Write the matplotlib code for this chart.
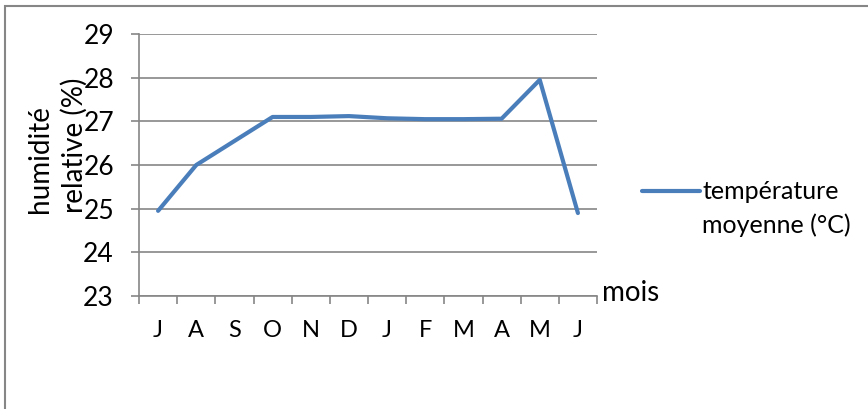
import matplotlib.pyplot as plt
from matplotlib.patches import Rectangle

plt.rcParams['font.family'] = ['Lato', 'DejaVu Sans']

# Monthly series (July to June)
mois = ['J', 'A', 'S', 'O', 'N', 'D', 'J', 'F', 'M', 'A', 'M', 'J']
temperature = [24.95, 26.0, 26.55, 27.1, 27.1, 27.12, 27.07, 27.05, 27.05, 27.06, 27.95, 24.9]
y_ticks = [23, 24, 25, 26, 27, 28, 29]

grey = '#868686'
blue = '#4A7EBB'

fig = plt.figure(figsize=(8.68, 4.09), dpi=100)
ax = fig.add_axes([139 / 868, 1 - 296 / 409, 458 / 868, 262 / 409])

x = list(range(len(mois)))
ax.plot(x, temperature, color=blue, lw=3.0, solid_capstyle='round',
        solid_joinstyle='round', label='température\nmoyenne (°C)')

ax.set_xlim(-0.5, len(mois) - 0.5)
ax.set_ylim(y_ticks[0], y_ticks[-1])

# category labels centred, tick marks on category boundaries
ax.set_xticks(x)
ax.set_xticklabels(mois, fontsize=17)
ax.tick_params(axis='x', which='major', length=0, pad=17)
ax.set_xticks([i - 0.5 for i in range(len(mois) + 1)], minor=True)
ax.tick_params(axis='x', which='minor', length=6, width=1.2, color=grey, direction='out')

ax.set_yticks(y_ticks)
ax.set_yticklabels([str(v) for v in y_ticks], fontsize=19)
ax.tick_params(axis='y', length=6, width=1.2, color=grey, pad=12)

ax.grid(axis='y', color=grey, lw=1.2)
ax.set_axisbelow(True)
for side in ['top', 'right']:
    ax.spines[side].set_visible(False)
for side in ['left', 'bottom']:
    ax.spines[side].set_color(grey)
    ax.spines[side].set_linewidth(1.2)

ax.set_xlabel('mois', fontsize=20, ha='left', va='center')
ax.xaxis.set_label_coords(1.01, 0.01)

fig.text(57 / 868, 1 - 213 / 409, 'humidité\nrelative (%)', rotation=90,
         ha='center', va='bottom', multialignment='left', fontsize=20, linespacing=1.35)

leg = ax.legend(loc='upper left', bbox_to_anchor=(642 / 868, 1 - 180 / 409),
                bbox_transform=fig.transFigure, frameon=False, fontsize=18,
                handlelength=2.3, handletextpad=0.12, borderpad=0, borderaxespad=0)
leg.get_texts()[0].set_linespacing(1.55)
# lift the legend line up to the first line of its label
handle = leg.get_lines()[0]
handle.set_ydata([v + 13 for v in handle.get_ydata()])

# chart frame (only the top and left edges fall inside the image)
fig.patches.append(Rectangle((5 / 868, -0.1), 1.1, 1.1 - 6 / 409,
                             transform=fig.transFigure, fill=False,
                             edgecolor=grey, lw=1.5, clip_on=False))

fig.savefig('out.png', dpi=100)
